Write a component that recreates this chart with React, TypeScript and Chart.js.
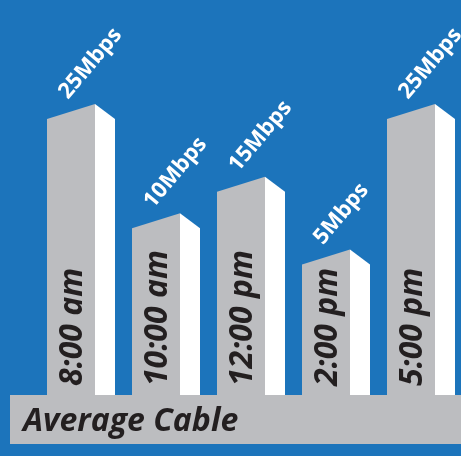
import React, { useEffect, useRef } from 'react';
import { Chart, registerables } from 'chart.js';

Chart.register(...registerables);

const categories = ['8:00 am', '10:00 am', '12:00 pm', '2:00 pm', '5:00 pm'];
const speeds = [25, 10, 15, 5, 25];
const valueLabels = ['25Mbps', '10Mbps', '15Mbps', '5Mbps', '25Mbps'];
const baseTitle = 'Average Cable';

const AXIS_MIN = -15;
const AXIS_MAX = 25;

const BLUE = '#1c74bb';
const GRAY = '#bcbdc0';
const DARK = '#231f20';
const FONT = "'Open Sans', 'Noto Sans', sans-serif";

const pillarPlugin = {
  id: 'pillars',
  afterDatasetsDraw(chart: any) {
    const ctx = chart.ctx as CanvasRenderingContext2D;
    const meta = chart.getDatasetMeta(0);
    const yScale = chart.scales.y;
    const bottom = yScale.getPixelForValue(AXIS_MIN);
    ctx.save();
    meta.data.forEach((el: any, i: number) => {
      const cx = el.x;
      const peak = el.y;
      const left = cx - 34;
      const mid = cx + 14;
      const right = cx + 34;
      const drop = 15;
      // gray front face
      ctx.fillStyle = GRAY;
      ctx.beginPath();
      ctx.moveTo(left, bottom);
      ctx.lineTo(left, peak + drop);
      ctx.lineTo(mid, peak);
      ctx.lineTo(mid, bottom);
      ctx.closePath();
      ctx.fill();
      // white side face
      ctx.fillStyle = '#ffffff';
      ctx.beginPath();
      ctx.moveTo(mid, bottom);
      ctx.lineTo(mid, peak);
      ctx.lineTo(right, peak + drop);
      ctx.lineTo(right, bottom);
      ctx.closePath();
      ctx.fill();

      // category label, rotated
      ctx.save();
      ctx.translate(cx + 1, 386);
      ctx.rotate(-Math.PI / 2);
      ctx.fillStyle = DARK;
      ctx.font = `italic bold 32px ${FONT}`;
      ctx.textAlign = 'left';
      ctx.textBaseline = 'alphabetic';
      ctx.fillText(categories[i], 0, 0);
      ctx.restore();

      // value label
      ctx.save();
      ctx.translate(left + 21, peak - 4);
      ctx.rotate((-50 * Math.PI) / 180);
      ctx.fillStyle = '#ffffff';
      ctx.font = `bold 22px ${FONT}`;
      ctx.textAlign = 'left';
      ctx.textBaseline = 'alphabetic';
      ctx.fillText(valueLabels[i], 0, 0);
      ctx.restore();
    });

    // base slab
    ctx.fillStyle = GRAY;
    ctx.fillRect(10, bottom, chart.width - 10, 49);
    ctx.fillStyle = DARK;
    ctx.font = `italic bold 32px ${FONT}`;
    ctx.textAlign = 'left';
    ctx.textBaseline = 'alphabetic';
    ctx.fillText(baseTitle, 23, bottom + 36);
    ctx.restore();
  },
};

export default function App() {
  const canvasRef = useRef<HTMLCanvasElement | null>(null);

  useEffect(() => {
    document.body.style.margin = '0';
    const canvas = canvasRef.current;
    if (!canvas) return;
    const chart = new Chart(canvas, {
      type: 'bar',
      data: {
        labels: categories,
        datasets: [
          {
            data: speeds,
            base: AXIS_MIN,
            backgroundColor: 'rgba(0,0,0,0)',
            borderWidth: 0,
          } as any,
        ],
      },
      options: {
        responsive: false,
        animation: false,
        layout: { padding: { left: 81, right: 40, top: 104, bottom: 61 } },
        plugins: {
          legend: { display: false },
          tooltip: { enabled: false },
        },
        scales: {
          x: { type: 'category', display: false, offset: false, grid: { display: false } },
          y: { type: 'linear', display: false, min: AXIS_MIN, max: AXIS_MAX, grid: { display: false } },
        },
      },
      plugins: [pillarPlugin],
    });
    return () => chart.destroy();
  }, []);

  return (
    <div style={{ position: 'absolute', left: 0, top: 0, width: 461, height: 456, background: BLUE, overflow: 'hidden' }}>
      <canvas ref={canvasRef} width={461} height={456} style={{ display: 'block' }} />
    </div>
  );
}
